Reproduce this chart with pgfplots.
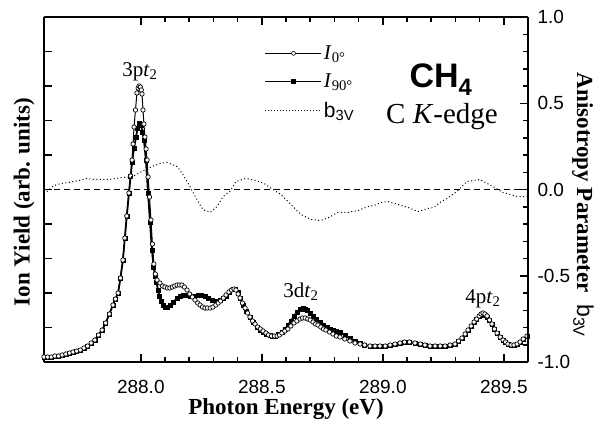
\documentclass[border=0pt]{standalone}
\usepackage{fontspec}
\setmainfont{Liberation Serif}
\setsansfont{Liberation Sans}
\usepackage{pgfplots}
\usepackage{pgfplotstable}
\pgfplotsset{compat=1.18}

% Ion yield, polarisation at 0 deg (arb. units)
\pgfplotstableread{
E Y
287.600 5
287.615 5
287.630 5
287.645 6
287.660 6
287.675 7
287.690 8
287.705 9
287.720 10
287.735 11
287.750 12
287.765 14
287.780 16
287.795 19
287.810 22
287.825 27
287.840 32
287.855 39
287.870 48
287.885 57
287.895 63
287.906 69
287.916 84
287.926 102
287.934 124
287.942 146
287.951 169
287.958 186
287.964 202
287.968 218
287.972 235
287.978 252
287.984 269
287.989 274
287.993 276
287.998 275
288.002 272
288.005 268
288.009 252
288.013 238
288.017 225
288.022 213
288.026 202
288.030 185
288.036 165
288.042 142
288.048 118
288.054 98
288.060 88
288.067 82
288.079 79
288.090 76
288.100 75
288.110 74
288.120 74
288.130 75
288.140 76
288.150 77
288.160 77
288.170 77
288.180 75
288.191 72
288.202 68
288.213 65
288.224 62
288.235 59
288.245 57
288.255 55
288.265 54
288.275 54
288.287 54
288.298 55
288.310 57
288.320 59
288.330 61
288.341 64
288.352 67
288.364 70
288.375 72
288.385 73
288.393 72
288.402 68
288.410 64
288.420 59
288.431 54
288.441 49
288.451 45
288.462 41
288.472 38
288.483 35
288.494 33
288.505 31
288.517 29
288.528 27
288.540 26
288.552 26
288.563 26
288.573 27
288.583 29
288.595 31
288.608 33
288.620 36
288.633 39
288.645 41
288.658 43
288.668 44
288.679 44
288.690 43
288.700 42
288.712 40
288.722 38
288.732 37
288.744 35
288.755 33
288.765 32
288.780 30
288.794 28
288.808 26
288.823 25
288.843 23
288.864 21
288.885 19
288.906 18
288.925 17
288.947 16
288.968 16
288.988 16
289.010 16
289.030 17
289.050 18
289.071 19
289.090 20
289.110 20
289.133 19
289.155 18
289.174 17
289.195 16
289.216 16
289.237 16
289.257 16
289.278 17
289.298 18
289.313 21
289.327 24
289.340 28
289.352 32
289.365 36
289.377 40
289.388 43
289.398 46
289.406 48
289.414 49
289.422 48
289.431 46
289.441 42
289.451 38
289.461 33
289.472 29
289.485 25
289.497 22
289.507 20
289.517 18
289.530 17
289.542 17
289.555 18
289.567 20
289.580 23
289.596 26
}\izero

% Ion yield, polarisation at 90 deg (arb. units)
\pgfplotstableread{
E Y
287.600 5
287.615 5
287.630 5
287.645 6
287.660 6
287.675 7
287.690 8
287.705 9
287.720 10
287.735 11
287.750 12
287.765 14
287.780 16
287.795 19
287.810 22
287.825 27
287.840 32
287.855 39
287.870 48
287.885 57
287.895 63
287.906 69
287.916 84
287.926 102
287.934 124
287.942 146
287.951 169
287.958 186
287.964 200
287.972 214
287.980 225
287.987 234
287.993 239
288.001 237
288.007 230
288.013 222
288.021 202
288.030 169
288.038 140
288.046 112
288.053 95
288.059 86
288.065 80
288.071 72
288.077 66
288.083 61
288.091 57
288.100 55
288.110 55
288.121 57
288.135 60
288.150 64
288.162 66
288.174 67
288.188 67
288.203 66
288.220 66
288.236 67
288.250 67
288.265 66
288.280 64
288.294 62
288.310 61
288.327 62
288.340 64
288.352 66
288.366 70
288.381 73
288.392 73
288.402 70
288.412 64
288.422 57
288.436 51
288.451 45
288.465 40
288.480 35
288.492 32
288.505 30
288.520 28
288.534 27
288.545 26
288.555 26
288.570 28
288.583 30
288.596 33
288.608 37
288.620 41
288.633 46
288.645 50
288.658 53
288.670 54
288.680 53
288.687 52
288.700 49
288.712 46
288.726 43
288.740 40
288.755 37
288.769 35
288.782 33
288.794 32
288.808 31
288.823 30
288.843 27
288.864 24
288.885 21
288.906 19
288.925 17
288.947 16
288.968 16
288.988 16
289.010 16
289.030 17
289.050 18
289.071 19
289.090 20
289.110 20
289.133 19
289.155 18
289.174 17
289.195 16
289.216 16
289.237 16
289.257 16
289.278 17
289.298 18
289.313 21
289.327 24
289.340 28
289.352 32
289.365 36
289.377 40
289.388 43
289.398 46
289.406 47
289.414 48
289.422 47
289.431 45
289.441 42
289.451 38
289.461 33
289.472 29
289.485 25
289.497 22
289.507 20
289.517 18
289.530 17
289.542 17
289.555 18
289.567 20
289.580 23
289.596 26
}\ininety

% Anisotropy parameter b_3V
\pgfplotstableread{
E B
287.612 -0.012
287.641 0.023
287.670 0.035
287.703 0.041
287.744 0.052
287.777 0.064
287.806 0.058
287.839 0.058
287.868 0.058
287.926 0.070
287.967 0.075
287.996 0.099
288.038 0.128
288.079 0.151
288.108 0.157
288.150 0.133
288.174 0.087
288.203 0.017
288.232 -0.058
288.257 -0.116
288.286 -0.133
288.315 -0.099
288.340 -0.041
288.368 -0.012
288.393 0.046
288.434 0.064
288.476 0.052
288.509 0.035
288.546 0.000
288.579 -0.029
288.620 -0.087
288.662 -0.145
288.703 -0.174
288.744 -0.180
288.777 -0.162
288.814 -0.133
288.855 -0.133
288.897 -0.122
288.938 -0.099
288.963 -0.093
288.992 -0.075
289.021 -0.070
289.063 -0.087
289.104 -0.104
289.145 -0.128
289.186 -0.110
289.211 -0.104
289.236 -0.075
289.264 -0.052
289.306 -0.012
289.347 0.046
289.401 0.058
289.455 0.017
289.496 -0.017
289.558 -0.041
289.596 -0.041
}\bthree

\newcommand{\tickfont}{\sffamily\fontsize{19}{19}\selectfont}
\newcommand{\labfont}{\bfseries\fontsize{23}{23}\selectfont}
\newcommand{\annfont}{\fontsize{21}{21}\selectfont}

\begin{document}
\begin{tikzpicture}
\path[use as bounding box] (-44pt,-59pt) rectangle (555pt,362pt);

% left axis: ion yield
\begin{axis}[
  at={(0pt,0pt)}, anchor=south west,
  scale only axis, width=484pt, height=345pt,
  xmin=287.6, xmax=289.6, ymin=0, ymax=345,
  axis y line*=left,
  axis line style={line width=1.5pt},
  every tick/.style={black, line width=1.5pt},
  tick align=inside,
  major tick length=8pt, minor tick length=5pt,
  xtick={288,288.5,289,289.5},
  xticklabels={288.0,288.5,289.0,289.5},
  minor x tick num=4,
  xtick pos=both,
  xticklabel style={font=\tickfont, yshift=-15pt},
  ytick={34.5,69,103.5,138,172.5,207,241.5,276,310.5},
  yticklabels={},
  clip=false,
  legend style={draw=none, fill=none, font=\annfont,
    at={(axis description cs:0.452,0.929)}, anchor=north west,
    row sep=9pt, inner xsep=2pt},
  legend cell align=left,
  legend image code/.code={\draw[mark repeat=2,mark phase=2,#1]
    plot coordinates {(0pt,0pt) (28pt,0pt) (56pt,0pt)};},
]
\addplot[forget plot, black, line width=1.8pt, mark=square*, mark size=2pt,
  mark options={line width=0.5pt}] table[x=E,y=Y] {\ininety};
\addplot[forget plot, black, line width=1pt, mark=*, mark size=2.2pt,
  mark options={fill=white, line width=0.7pt}] table[x=E,y=Y] {\izero};
\addlegendimage{black, line width=0.8pt, mark=*, mark size=2pt,
  mark options={fill=white, line width=0.6pt}}
\addlegendentry{\textit{I}\textsubscript{0\textdegree}}
\addlegendimage{black, line width=0.8pt, mark=square*, mark size=2pt}
\addlegendentry{\textit{I}\textsubscript{90\textdegree}}
\addlegendimage{black, line width=1pt, dash pattern=on 1pt off 2pt}
\addlegendentry{\sffamily b\textsubscript{3V}}
\end{axis}

% right axis: anisotropy parameter
\begin{axis}[
  at={(0pt,0pt)}, anchor=south west,
  scale only axis, width=484pt, height=345pt,
  xmin=287.6, xmax=289.6, ymin=-1, ymax=1,
  axis x line=none, axis y line*=right,
  axis line style={line width=1.5pt},
  every tick/.style={black, line width=1.5pt},
  tick align=inside,
  major tick length=8pt, minor tick length=5pt,
  ytick={-1,-0.5,0,0.5,1},
  yticklabels={-1.0,-0.5,0.0,0.5,1.0},
  minor y tick num=4,
  yticklabel style={font=\tickfont, anchor=west, xshift=6pt},
]
\addplot[black, line width=1pt, dash pattern=on 6pt off 4pt]
  coordinates {(287.6,0) (289.6,0)};
\addplot[black, line width=1pt, dash pattern=on 1pt off 2.5pt]
  table[x=E,y=B] {\bthree};
\end{axis}

% annotations
\node[font=\annfont] at (96pt,290pt) {3p\textit{t}\textsubscript{2}};
\node[font=\annfont] at (257pt,70pt) {3d\textit{t}\textsubscript{2}};
\node[font=\annfont] at (439pt,63pt) {4p\textit{t}\textsubscript{2}};
\node[font=\sffamily\bfseries\fontsize{34}{34}\selectfont] at (397pt,282pt) {CH\textsubscript{4}};
\node[font=\fontsize{29}{29}\selectfont] at (398pt,245pt) {C \textit{K}-edge};
\node[font=\labfont] at (242pt,-47pt) {Photon Energy (eV)};
\node[font=\labfont, rotate=90] at (-20pt,160pt) {Ion Yield (arb. units)};
\node[font=\labfont, rotate=-90] at (539pt,157pt) {Anisotropy Parameter\ \ {\mdseries\sffamily b\textsubscript{3V}}};
\end{tikzpicture}
\end{document}
